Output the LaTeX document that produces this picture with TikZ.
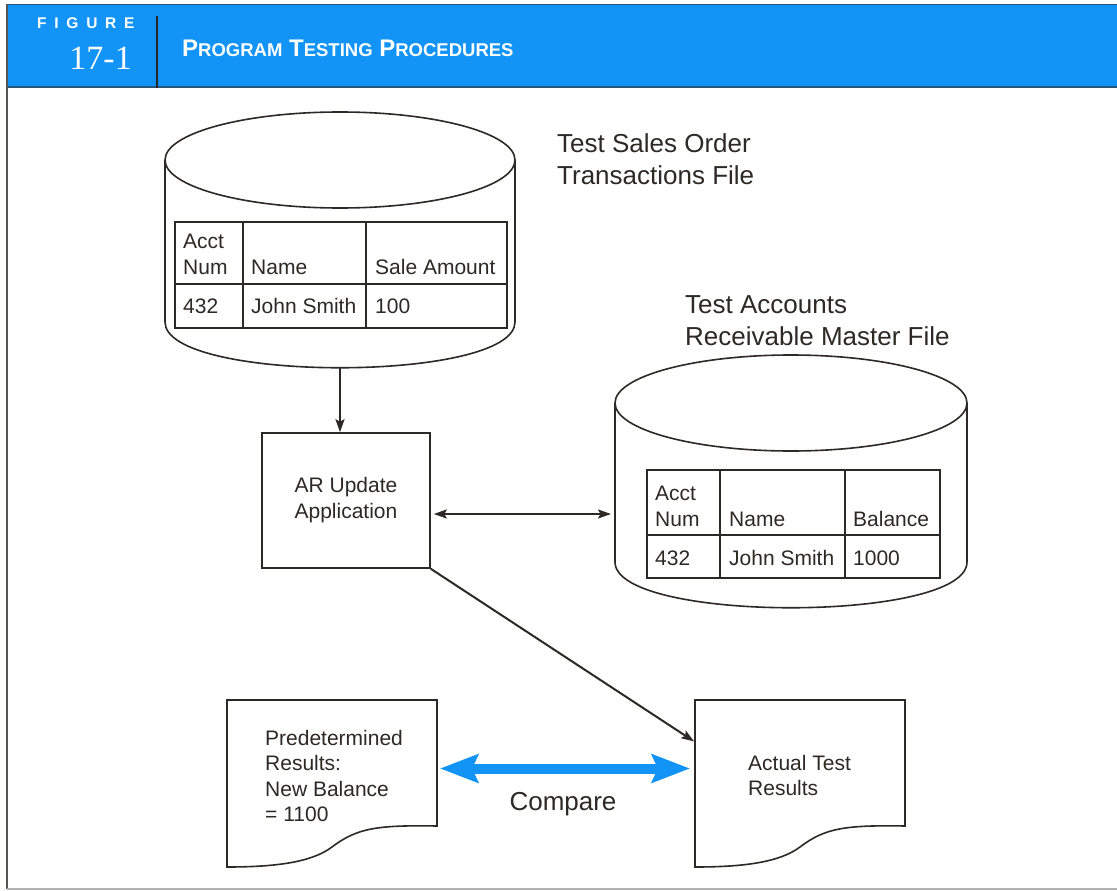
\documentclass[tikz,border=0pt]{standalone}
\usepackage{fontspec}
\setmainfont{Liberation Sans}
\newfontfamily\numfont{Liberation Serif}
\usetikzlibrary{arrows.meta,calc}

\definecolor{hdrblue}{RGB}{18,148,247}
\definecolor{hdrdark}{RGB}{40,86,122}
\definecolor{ink}{RGB}{45,41,37}
\definecolor{framegray}{RGB}{88,84,80}

\newcommand{\fs}[1]{\fontsize{#1}{#1}\selectfont}
\newcommand{\capsm}[2]{{\fs{24}#1}{\fs{18.5}#2}}

% cylinder (disk file) outline drawn around an invisible node
\newcommand{\cylout}[2]{%
  \draw[outline] ([yshift=-48pt]#1.north west) -- ([yshift=46pt]#1.south west)
    .. controls ([yshift=-15pt]#1.south west) and ([yshift=-15pt]#1.south east)
    .. ([yshift=46pt]#1.south east) -- ([yshift=-48pt]#1.north east);
  \draw[outline] ([yshift=-48pt]#1.north) ellipse [x radius=#2, y radius=48];
}

% document symbol with a wavy lower edge
\newcommand{\docout}[1]{%
  \draw[outline] (#1.south west) -- (#1.north west) -- (#1.north east)
    -- ([yshift=41pt]#1.south east)
    .. controls ([xshift=150pt,yshift=42pt]#1.south west) and ([xshift=130pt,yshift=39pt]#1.south west)
    .. ([xshift=105pt,yshift=20pt]#1.south west)
    .. controls ([xshift=85pt,yshift=5pt]#1.south west) and ([xshift=50pt]#1.south west)
    .. cycle;
}

\begin{document}
\begin{tikzpicture}[x=1pt,y=-1pt,
  outline/.style={draw=ink, line width=1.6pt},
  grid/.style={draw=ink, line width=1.4pt},
  holder/.style={inner sep=0pt, outer sep=0pt},
  txt/.style={text=ink, font=\fs{21}, inner sep=0pt, anchor=base west},
  bigtxt/.style={text=ink, font=\fs{26}, inner sep=0pt, anchor=base west},
  tip/.style={Stealth[length=13pt,width=9pt,inset=2.5pt]},
  flow/.style={draw=ink, line width=2pt, -{Stealth[length=13pt,width=9pt,inset=2.5pt]}},
  twoway/.style={draw=ink, line width=2pt, {Stealth[length=13pt,width=9pt,inset=2.5pt]}-{Stealth[length=13pt,width=9pt,inset=2.5pt]}},
  compare/.style={draw=hdrblue, line width=10pt,
    {Stealth[length=38pt,width=28pt,inset=6pt]}-{Stealth[length=38pt,width=28pt,inset=6pt]}}
]
\useasboundingbox (0,0) rectangle (1117,891);
\fill[white] (0,0) rectangle (1117,891);

% ---------- frame and title bar ----------
\fill[hdrblue] (7,4) rectangle (1117,88);
\draw[hdrdark, line width=1.5pt] (7,4.5) -- (1117,4.5);
\draw[hdrdark, line width=2.5pt] (7,87) -- (1117,87);
\draw[framegray, line width=2pt] (7,4) -- (7,889);
\draw[black!30, line width=1.5pt] (7,889) -- (1117,889);
\draw[black!85, line width=2pt] (157,16) -- (157,88);

\node[anchor=base west, text=white, inner sep=0pt,
      font=\bfseries\fs{15.5}\addfontfeature{LetterSpace=50}] (figword) at (37,29) {FIGURE};
\node[anchor=base east, text=white, inner sep=0pt, font=\numfont\fs{34}] (fignum) at (132,70) {17-1};
\node[anchor=base west, text=white, inner sep=0pt, font=\bfseries\fs{24}] (figtitle) at (182,57)
  {\capsm{P}{ROGRAM} \capsm{T}{ESTING} \capsm{P}{ROCEDURES}};

% ---------- test sales order transactions file ----------
\node[holder, minimum width=350pt, minimum height=256pt] (salesfile) at (340,240) {};
\cylout{salesfile}{175}
\draw[grid] (175,222) rectangle (507,328);
\draw[grid] (175,284) -- (507,284);
\draw[grid] (243,222) -- (243,328);
\draw[grid] (366,222) -- (366,328);
\node[txt] (sa1) at (183,248) {Acct};
\node[txt] (sa2) at (183,274) {Num};
\node[txt] (sa3) at (251,274) {Name};
\node[txt] (sa4) at (375,274) {Sale Amount};
\node[txt] (sa5) at (183,313) {432};
\node[txt] (sa6) at (251,313) {John Smith};
\node[txt] (sa7) at (375,313) {100};
\node[bigtxt] (salesname1) at (557,152) {Test Sales Order};
\node[bigtxt] (salesname2) at (557,184) {Transactions File};

% ---------- test accounts receivable master file ----------
\node[holder, minimum width=352pt, minimum height=253pt] (armaster) at (791,481.5) {};
\cylout{armaster}{176}
\draw[grid] (647,470) rectangle (940,578);
\draw[grid] (647,535) -- (940,535);
\draw[grid] (720,470) -- (720,578);
\draw[grid] (845,470) -- (845,578);
\node[txt] (ma1) at (655,500) {Acct};
\node[txt] (ma2) at (655,526) {Num};
\node[txt] (ma3) at (729,526) {Name};
\node[txt] (ma4) at (853,526) {Balance};
\node[txt] (ma5) at (655,565) {432};
\node[txt] (ma6) at (729,565) {John Smith};
\node[txt] (ma7) at (853,565) {1000};
\node[bigtxt] (mastername1) at (685,313) {Test Accounts};
\node[bigtxt] (mastername2) at (685,345) {Receivable Master File};

% ---------- update program ----------
\node[outline, minimum width=168pt, minimum height=135pt, inner sep=0pt,
      text=ink, font=\fontsize{21}{26}\selectfont, align=center] (ar) at (346,500.5)
  {AR Update\\Application};

% ---------- output documents ----------
\node[holder, minimum width=210pt, minimum height=167pt] (pred) at (332,783.5) {};
\docout{pred}
\node[txt] (pr1) at (265,745) {Predetermined};
\node[txt] (pr2) at (265,770.5) {Results:};
\node[txt] (pr3) at (265,796) {New Balance};
\node[txt] (pr4) at (265,821) {= 1100};

\node[holder, minimum width=210pt, minimum height=167pt] (actual) at (800,783.5) {};
\docout{actual}
\node[txt] (ac1) at (748,770) {Actual Test};
\node[txt] (ac2) at (748,795) {Results};

% ---------- connectors ----------
\draw[flow] (salesfile.south) -- (salesfile.south |- ar.north);
\draw[twoway, shorten <=3pt, shorten >=4pt] ([yshift=-13.5pt]ar.east) -- ([yshift=-13.5pt]ar.east -| armaster.west);
\draw[flow, shorten >=1pt] (ar.south east) -- ([yshift=41.5pt]actual.west);
\draw[compare, shorten <=3pt, shorten >=5pt] ([yshift=15pt]pred.east) -- ([yshift=15pt]actual.west);
\node[bigtxt, anchor=base] (cmp) at (563,810) {Compare};

\end{tikzpicture}
\end{document}
